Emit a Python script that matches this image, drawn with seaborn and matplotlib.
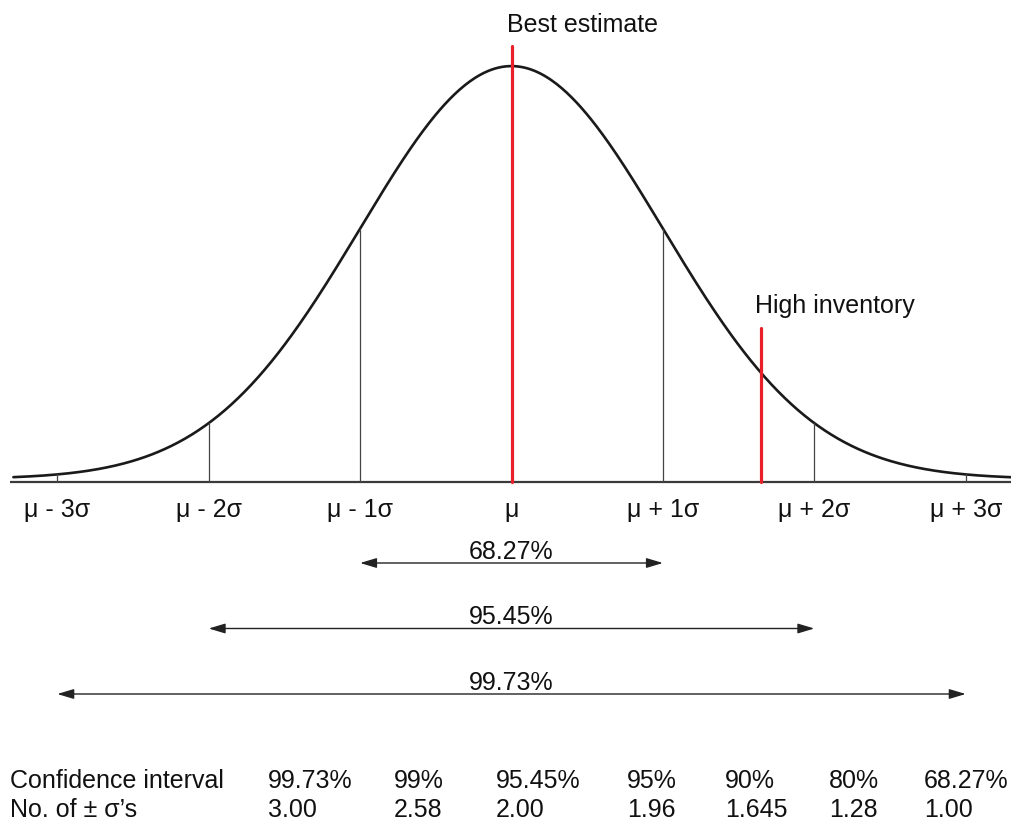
import numpy as np
import matplotlib
matplotlib.use('Agg')
import matplotlib.pyplot as plt
import seaborn as sns

# chart data
mu = 0.0
sigma = 1.0
sigma_marks = [-3, -2, -1, 0, 1, 2, 3]
sigma_labels = ['μ - 3σ', 'μ - 2σ', 'μ - 1σ', 'μ', 'μ + 1σ', 'μ + 2σ', 'μ + 3σ']
best_estimate = 0.0
high_inventory = 1.645
range_widths = [1, 2, 3]
range_labels = ['68.27%', '95.45%', '99.73%']
conf_levels = ['99.73%', '99%', '95.45%', '95%', '90%', '80%', '68.27%']
n_sigmas = ['3.00', '2.58', '2.00', '1.96', '1.645', '1.28', '1.00']

sns.set_theme(style='white')
plt.rcParams['font.family'] = ['Liberation Sans', 'DejaVu Sans']

W, H = 1011, 823
fig = plt.figure(figsize=(W / 100, H / 100), dpi=100)
ax = fig.add_axes([0, 0, 1, 1])

# pixel -> data helpers (layout only)
X0, SX = 511.5, 151.4
Y0, SY = 479.0, 1035.0
def px(p):
    return (p - X0) / SX
def py(p):
    return (Y0 - p) / SY

ax.set_xlim(px(0), px(W))
ax.set_ylim(py(H), py(0))
ax.axis('off')

def pdf(v):
    return np.exp(-0.5 * ((v - mu) / sigma) ** 2) / (sigma * np.sqrt(2 * np.pi))

xs = np.linspace(mu - 3.29 * sigma, mu + 3.3 * sigma, 600)
sns.lineplot(x=xs, y=pdf(xs), color='#1a1a1a', lw=1.9, ax=ax)

axis_y = py(481.5)
ax.plot([px(10), px(W)], [axis_y, axis_y], color='#3a3a3a', lw=1.6, solid_capstyle='butt')

fs = 18
for m, lab in zip(sigma_marks, sigma_labels):
    xv = mu + m * sigma
    if m != 0:
        ax.plot([xv, xv], [axis_y, pdf(xv)], color='#444444', lw=0.9)
    ax.text(xv, py(516.5), lab, ha='center', va='baseline', fontsize=fs, color='#111111')

red = '#e8202a'
ax.plot([best_estimate, best_estimate], [axis_y, py(46)], color=red, lw=2.3)
ax.text(px(507), py(32), 'Best estimate', ha='left', va='baseline', fontsize=fs, color='#111111')
ax.plot([high_inventory, high_inventory], [axis_y, py(328)], color=red, lw=2.3)
ax.text(px(755), py(313), 'High inventory', ha='left', va='baseline', fontsize=fs, color='#111111')

arrow_rows = [563, 628.5, 694]
for w, lab, yr in zip(range_widths, range_labels, arrow_rows):
    ya = py(yr)
    ax.annotate('', xy=(mu - w * sigma, ya), xytext=(mu + w * sigma, ya),
                arrowprops=dict(arrowstyle='<|-|>,head_length=0.5,head_width=0.15',
                                color='#222222', lw=1.0, mutation_scale=20,
                                shrinkA=0, shrinkB=0))
    ax.text(mu, py(yr - 4), lab, ha='center', va='baseline', fontsize=fs, color='#111111')

# table underneath
col_x = [268, 394, 496, 627, 725, 829, 924]
row1, row2 = 788, 817
ax.text(px(10), py(row1), 'Confidence interval', ha='left', va='baseline', fontsize=fs, color='#111111')
ax.text(px(10), py(row2), 'No. of ± σ’s', ha='left', va='baseline', fontsize=fs, color='#111111')
for cx, c, n in zip(col_x, conf_levels, n_sigmas):
    ax.text(px(cx), py(row1), c, ha='left', va='baseline', fontsize=fs, color='#111111')
    ax.text(px(cx), py(row2), n, ha='left', va='baseline', fontsize=fs, color='#111111')

fig.savefig('out.png', dpi=100, facecolor='white')
